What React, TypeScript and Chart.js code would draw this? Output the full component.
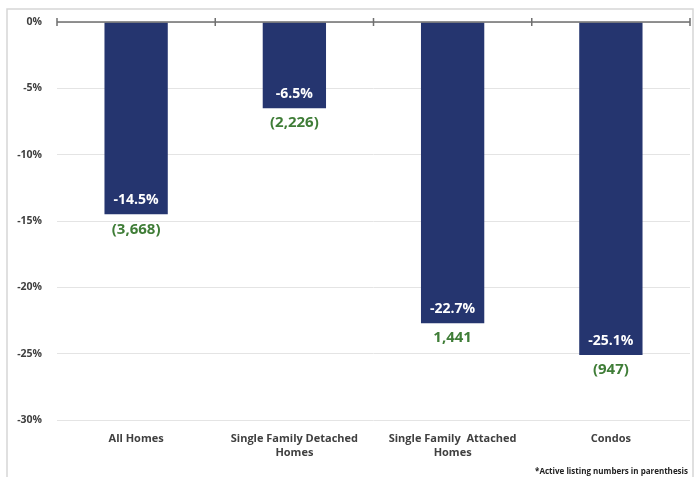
import React, { useEffect, useRef } from "react";
import { Chart, registerables } from "chart.js";

Chart.register(...registerables);

const categories: (string | string[])[] = [
  "All Homes",
  ["Single Family Detached", "Homes"],
  ["Single Family  Attached", "Homes"],
  "Condos",
];
const changePct = [-14.5, -6.5, -22.7, -25.1];
const changeLabels = ["-14.5%", "-6.5%", "-22.7%", "-25.1%"];
const listingLabels = ["(3,668)", "(2,226)", "1,441", "(947)"];
const footnote = "*Active listing numbers in parenthesis";

const NAVY = "#25356f";
const GREEN = "#3f7d37";
const AXIS_TEXT = "#404040";
const FONT = "'Open Sans', 'DejaVu Sans', sans-serif";

const decorPlugin = {
  id: "decor",
  beforeDraw(chart: any) {
    const ctx = chart.ctx;
    ctx.save();
    ctx.strokeStyle = "#d6d6d6";
    ctx.lineWidth = 1.5;
    ctx.strokeRect(7, 9, 686, 480);
    ctx.restore();
  },
  afterDatasetsDraw(chart: any) {
    const ctx = chart.ctx;
    const x = chart.scales.x;
    const y = chart.scales.y;
    const area = chart.chartArea;
    const y0 = y.getPixelForValue(0);
    ctx.save();
    // zero axis line with tick marks at category boundaries
    ctx.strokeStyle = "#6f6f6f";
    ctx.lineWidth = 1.5;
    ctx.beginPath();
    ctx.moveTo(area.left, y0);
    ctx.lineTo(area.right, y0);
    const n = categories.length;
    for (let i = 0; i <= n; i++) {
      const px = area.left + ((area.right - area.left) * i) / n;
      ctx.moveTo(px, y0 - 4);
      ctx.lineTo(px, y0 + 4);
    }
    ctx.stroke();

    // data labels
    const meta = chart.getDatasetMeta(0);
    ctx.textAlign = "center";
    ctx.textBaseline = "middle";
    meta.data.forEach((bar: any, i: number) => {
      const bx = bar.x;
      const by = bar.y;
      ctx.fillStyle = "#ffffff";
      ctx.font = `bold 14px ${FONT}`;
      ctx.fillText(changeLabels[i], bx, by - 14);
      ctx.fillStyle = GREEN;
      ctx.font = `bold 15px ${FONT}`;
      ctx.fillText(listingLabels[i], bx, by + 15);
    });

    // footnote
    ctx.fillStyle = "#222222";
    ctx.font = `bold 8px ${FONT}`;
    ctx.textAlign = "right";
    ctx.fillText(footnote, 688, 472);
    ctx.restore();
  },
};

export default function App() {
  const ref = useRef<HTMLCanvasElement | null>(null);
  useEffect(() => {
    if (!ref.current) return;
    const chart = new Chart(ref.current, {
      type: "bar",
      data: {
        labels: categories,
        datasets: [
          {
            data: changePct,
            backgroundColor: NAVY,
            borderWidth: 0,
            barPercentage: 0.4,
            categoryPercentage: 1,
          },
        ],
      },
      options: {
        animation: false,
        responsive: false,
        maintainAspectRatio: false,
        layout: { padding: { left: 0, right: 9, top: 22, bottom: 0 } },
        plugins: {
          legend: { display: false },
          title: { display: false },
          tooltip: { enabled: false },
        },
        scales: {
          x: {
            grid: { display: false, drawTicks: false },
            border: { display: false },
            ticks: {
              color: AXIS_TEXT,
              font: { family: FONT, size: 11, weight: "bold", lineHeight: 1.25 },
              padding: 12,
              maxRotation: 0,
              autoSkip: false,
            },
            afterFit: (s: any) => {
              s.height = 57;
            },
          },
          y: {
            min: -30,
            max: 0,
            ticks: {
              stepSize: 5,
              color: AXIS_TEXT,
              font: { family: FONT, size: 10.5, weight: "bold" },
              padding: 15,
              callback: (v: any) => `${v}%`,
            },
            grid: { color: "#e4e4e4", lineWidth: 1, drawTicks: false },
            border: { display: false },
            afterFit: (s: any) => {
              s.width = 57;
            },
          },
        },
      },
      plugins: [decorPlugin],
    });
    return () => chart.destroy();
  }, []);
  return (
    <div style={{ position: "fixed", left: 0, top: 0, width: 699, height: 477, background: "#fff" }}>
      <canvas ref={ref} width={699} height={477} style={{ display: "block", width: 699, height: 477 }} />
    </div>
  );
}
